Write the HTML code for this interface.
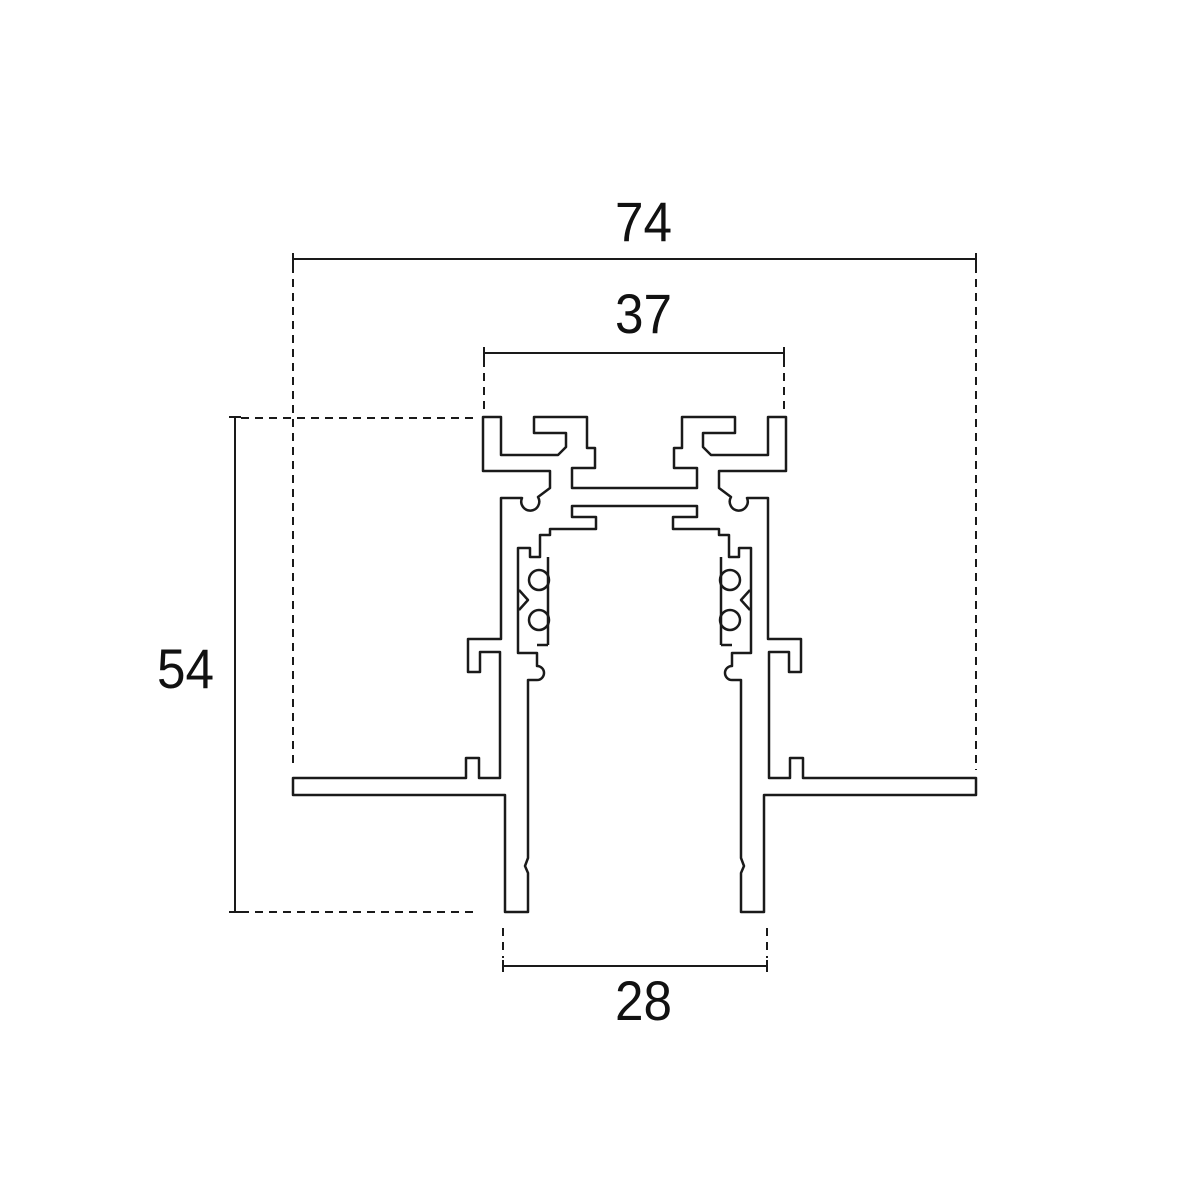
<!DOCTYPE html>
<html><head><meta charset="utf-8"><style>
html,body{margin:0;padding:0;background:#fff;}
svg{display:block;}
text{font-family:"Liberation Sans",sans-serif;font-size:56px;fill:#111;}
</style></head><body>
<svg width="1192" height="1200" viewBox="0 0 1192 1200">
<rect width="1192" height="1200" fill="#fff"/>
<g stroke="#1a1a1a" stroke-width="2" fill="none">
<!-- 74 -->
<line x1="293" y1="259" x2="976" y2="259"/>
<line x1="293" y1="253" x2="293" y2="265"/>
<line x1="976" y1="253" x2="976" y2="265"/>
<line x1="293" y1="265" x2="293" y2="765" stroke-dasharray="8,6"/>
<line x1="976" y1="265" x2="976" y2="770" stroke-dasharray="8,6"/>
<!-- 37 -->
<line x1="484" y1="353" x2="784" y2="353"/>
<line x1="484" y1="347" x2="484" y2="359"/>
<line x1="784" y1="347" x2="784" y2="359"/>
<line x1="484" y1="359" x2="484" y2="414" stroke-dasharray="8,6"/>
<line x1="784" y1="359" x2="784" y2="414" stroke-dasharray="8,6"/>
<!-- 54 -->
<line x1="235" y1="417" x2="235" y2="912"/>
<line x1="229" y1="417" x2="241" y2="417"/>
<line x1="229" y1="912" x2="241" y2="912"/>
<line x1="241" y1="418" x2="478" y2="418" stroke-dasharray="8,6"/>
<line x1="241" y1="912" x2="478" y2="912" stroke-dasharray="8,6"/>
<!-- 28 -->
<line x1="503" y1="966" x2="767" y2="966"/>
<line x1="503" y1="960" x2="503" y2="972"/>
<line x1="767" y1="960" x2="767" y2="972"/>
<line x1="503" y1="928" x2="503" y2="958" stroke-dasharray="8,6"/>
<line x1="767" y1="928" x2="767" y2="958" stroke-dasharray="8,6"/>
</g>
<text x="615" y="241" textLength="57" lengthAdjust="spacingAndGlyphs">74</text>
<text x="615" y="333" textLength="57" lengthAdjust="spacingAndGlyphs">37</text>
<text x="157" y="688" textLength="57" lengthAdjust="spacingAndGlyphs">54</text>
<text x="615" y="1020" textLength="57" lengthAdjust="spacingAndGlyphs">28</text>
<g id="half" stroke="#1a1a1a" stroke-width="2.5" fill="none" stroke-linejoin="round">
<path d="M634.5,488 L572,488 L572,468 L595,468 L595,448 L587,448 L587,417 L534,417 L534,433 L566,433 L566,447 L558,455 L501,455 L501,417 L483,417 L483,471 L550,471 L550,488 L538,497 A9,9 0 1 1 522,498 L501,498 L501,639 L468,639 L468,672 L480,672 L480,652 L500,652 L500,778 L479,778 L479,758 L466,758 L466,778 L293,778 L293,795 L505,795 L505,912 L528,912 L528,873 L525,866 L528,858 L528,680 L537,680 A7,7 0 0 0 537,666 L537,653 L518,653 L518,548 L530,548 L530,557 L540,557 L540,535 L550,535 L550,529 L596,529 L596,517 L572,517 L572,506 L634.5,506"/>
<line x1="548" y1="557" x2="548" y2="645"/>
<line x1="548" y1="645" x2="537" y2="645"/>
<circle cx="539" cy="580" r="10"/>
<circle cx="539" cy="620" r="10"/>
<path d="M519,590 L528,600 L519,610"/>
</g>
<use href="#half" transform="translate(1269,0) scale(-1,1)"/>
</svg>
</body></html>
